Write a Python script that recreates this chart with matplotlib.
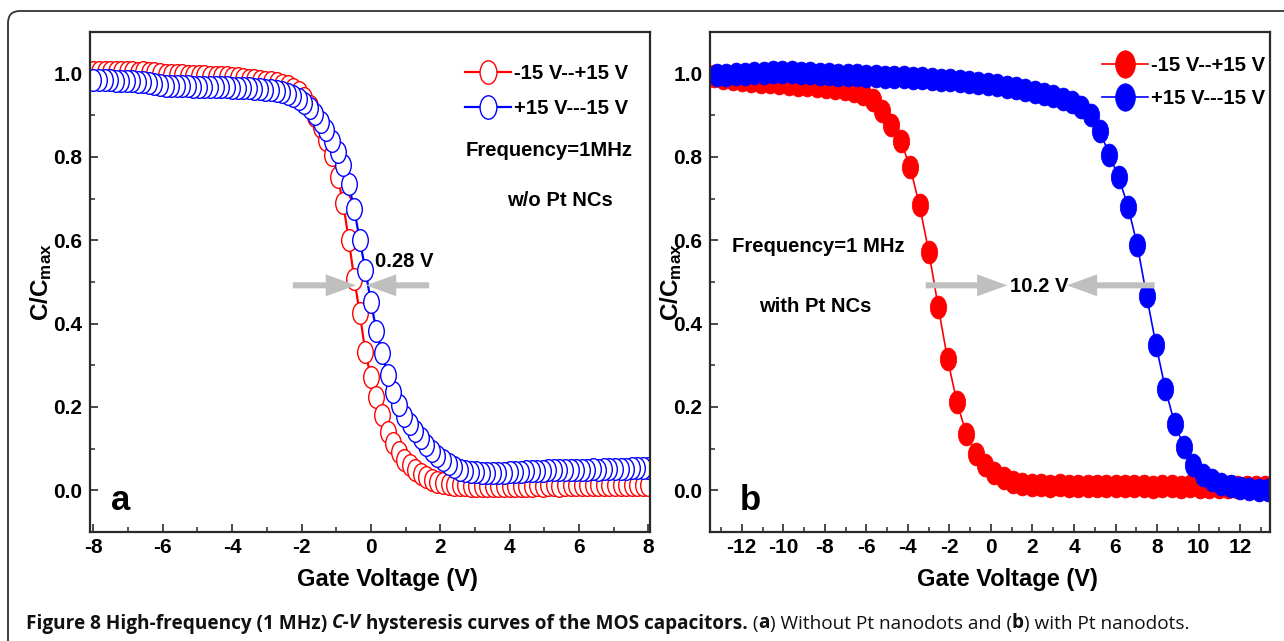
import numpy as np
import matplotlib
matplotlib.use('Agg')
import matplotlib.pyplot as plt
from matplotlib import font_manager as fm
from matplotlib.path import Path
from matplotlib.patches import FancyBboxPatch
from matplotlib.ticker import MultipleLocator, FormatStrFormatter

# ---------------- data ----------------
va = [-8.00, -7.84, -7.68, -7.52, -7.36, -7.20, -7.04, -6.88, -6.72, -6.56,
      -6.40, -6.24, -6.08, -5.92, -5.76, -5.60, -5.44, -5.28, -5.12, -4.96,
      -4.80, -4.64, -4.48, -4.32, -4.16, -4.00, -3.84, -3.68, -3.52, -3.36,
      -3.20, -3.04, -2.88, -2.72, -2.56, -2.40, -2.24, -2.08, -1.92, -1.76,
      -1.60, -1.44, -1.28, -1.12, -0.96, -0.80, -0.64, -0.48, -0.32, -0.16,
      0.00, 0.16, 0.32, 0.48, 0.64, 0.80, 0.96, 1.12, 1.28, 1.44,
      1.60, 1.76, 1.92, 2.08, 2.24, 2.40, 2.56, 2.72, 2.88, 3.04,
      3.20, 3.36, 3.52, 3.68, 3.84, 4.00, 4.16, 4.32, 4.48, 4.64,
      4.80, 4.96, 5.12, 5.28, 5.44, 5.60, 5.76, 5.92, 6.08, 6.24,
      6.40, 6.56, 6.72, 6.88, 7.04, 7.20, 7.36, 7.52, 7.68, 7.84,
      8.00]
red_a = [1.005, 1.004, 1.005, 1.004, 1.003, 1.004, 1.003, 1.003, 1.002, 1.003,
         1.002, 1.001, 1.000, 0.998, 0.997, 0.996, 0.996, 0.995, 0.995, 0.994,
         0.994, 0.993, 0.993, 0.992, 0.991, 0.990, 0.989, 0.988, 0.986, 0.985,
         0.983, 0.981, 0.979, 0.977, 0.974, 0.970, 0.964, 0.955, 0.942, 0.922,
         0.898, 0.872, 0.840, 0.805, 0.752, 0.690, 0.602, 0.508, 0.425, 0.332,
         0.272, 0.224, 0.180, 0.140, 0.114, 0.092, 0.074, 0.061, 0.050, 0.040,
         0.031, 0.025, 0.021, 0.018, 0.016, 0.014, 0.013, 0.012, 0.011, 0.011,
         0.010, 0.010, 0.011, 0.010, 0.010, 0.011, 0.011, 0.010, 0.011, 0.011,
         0.012, 0.011, 0.012, 0.012, 0.011, 0.012, 0.012, 0.013, 0.012, 0.012,
         0.013, 0.012, 0.013, 0.013, 0.012, 0.013, 0.013, 0.012, 0.013, 0.013,
         0.013]
blue_a = [0.985, 0.985, 0.984, 0.984, 0.983, 0.983, 0.982, 0.982, 0.981, 0.980,
          0.978, 0.976, 0.972, 0.971, 0.971, 0.970, 0.970, 0.970, 0.969, 0.969,
          0.968, 0.968, 0.968, 0.967, 0.967, 0.966, 0.966, 0.966, 0.965, 0.964,
          0.963, 0.962, 0.960, 0.958, 0.956, 0.952, 0.947, 0.940, 0.930, 0.918,
          0.903, 0.885, 0.864, 0.838, 0.812, 0.782, 0.735, 0.675, 0.600, 0.530,
          0.452, 0.383, 0.330, 0.278, 0.237, 0.204, 0.178, 0.160, 0.143, 0.126,
          0.108, 0.095, 0.082, 0.072, 0.063, 0.057, 0.050, 0.046, 0.044, 0.043,
          0.042, 0.042, 0.041, 0.041, 0.042, 0.043, 0.045, 0.045, 0.046, 0.046,
          0.047, 0.047, 0.048, 0.048, 0.048, 0.049, 0.049, 0.049, 0.050, 0.050,
          0.051, 0.050, 0.051, 0.051, 0.052, 0.052, 0.052, 0.053, 0.053, 0.053,
          0.054]

vb_red = [-13.34, -12.89, -12.44, -11.99, -11.54, -11.09, -10.64, -10.19, -9.74, -9.29,
          -8.84, -8.39, -7.94, -7.49, -7.04, -6.59, -6.14, -5.69, -5.24, -4.79,
          -4.34, -3.89, -3.44, -2.99, -2.54, -2.09, -1.64, -1.19, -0.74, -0.29,
          0.16, 0.61, 1.06, 1.51, 1.96, 2.41, 2.86, 3.31, 3.76, 4.21,
          4.66, 5.11, 5.56, 6.01, 6.46, 6.91, 7.36, 7.81, 8.26, 8.71,
          9.16, 9.61, 10.06, 10.51, 10.96, 11.41, 11.86, 12.31, 12.76, 13.21]
red_b = [0.995, 0.990, 0.987, 0.985, 0.983, 0.981, 0.979, 0.977, 0.975, 0.973,
         0.972, 0.970, 0.968, 0.966, 0.963, 0.959, 0.952, 0.938, 0.910, 0.876,
         0.838, 0.775, 0.684, 0.572, 0.441, 0.315, 0.212, 0.136, 0.088, 0.060,
         0.041, 0.029, 0.021, 0.016, 0.013, 0.012, 0.011, 0.012, 0.011, 0.010,
         0.011, 0.010, 0.011, 0.010, 0.010, 0.011, 0.010, 0.009, 0.010, 0.010,
         0.009, 0.010, 0.009, 0.008, 0.009, 0.008, 0.008, 0.007, 0.008, 0.007]
vb_blue = [-13.20, -12.75, -12.30, -11.85, -11.40, -10.95, -10.50, -10.05, -9.60, -9.15,
           -8.70, -8.25, -7.80, -7.35, -6.90, -6.45, -6.00, -5.55, -5.10, -4.65,
           -4.20, -3.75, -3.30, -2.85, -2.40, -1.95, -1.50, -1.05, -0.60, -0.15,
           0.30, 0.75, 1.20, 1.65, 2.10, 2.55, 3.00, 3.45, 3.90, 4.35,
           4.80, 5.25, 5.70, 6.15, 6.60, 7.05, 7.50, 7.95, 8.40, 8.85,
           9.30, 9.75, 10.20, 10.65, 11.10, 11.55, 12.00, 12.45, 12.90, 13.35]
blue_b = [0.997, 0.998, 0.999, 1.000, 1.001, 1.002, 1.003, 1.003, 1.003, 1.002,
          1.001, 1.000, 0.999, 0.998, 0.997, 0.996, 0.995, 0.994, 0.993, 0.992,
          0.991, 0.990, 0.989, 0.988, 0.986, 0.984, 0.982, 0.980, 0.978, 0.975,
          0.972, 0.968, 0.965, 0.961, 0.957, 0.952, 0.947, 0.940, 0.932, 0.920,
          0.902, 0.862, 0.805, 0.752, 0.681, 0.588, 0.466, 0.349, 0.243, 0.160,
          0.104, 0.062, 0.037, 0.024, 0.016, 0.010, 0.006, 0.003, 0.001, 0.000]

legend_labels = ['-15 V--+15 V', '+15 V---15 V']
xticks_a = [-8, -6, -4, -2, 0, 2, 4, 6, 8]
xticks_b = [-12, -10, -8, -6, -4, -2, 0, 2, 4, 6, 8, 10, 12]
yticks = [0.0, 0.2, 0.4, 0.6, 0.8, 1.0]
xlabel = 'Gate Voltage (V)'
ylabel = r'$\mathbf{C/C_{max}}$'
gap_a = '0.28 V'
gap_b = '10.2 V'
caption_parts = [
    ('Figure 8 High-frequency (1 MHz) ', 'bold', 'normal'),
    ('C-V', 'bold', 'italic'),
    (' hysteresis curves of the MOS capacitors.', 'bold', 'normal'),
    (' (', 'normal', 'normal'),
    ('a', 'bold', 'normal'),
    (') Without Pt nanodots and (', 'normal', 'normal'),
    ('b', 'bold', 'normal'),
    (') with Pt nanodots.', 'normal', 'normal'),
]

# ---------------- fonts ----------------
names = {f.name for f in fm.fontManager.ttflist}
if 'Liberation Sans Narrow' in names:
    NARROW = 'Liberation Sans Narrow'
elif 'DejaVu Sans Condensed' in names:
    NARROW = 'DejaVu Sans Condensed'
else:
    NARROW = 'Liberation Sans'
CAPF = 'Open Sans' if 'Open Sans' in names else 'DejaVu Sans'

plt.rcParams['font.family'] = [NARROW, 'DejaVu Sans']
plt.rcParams['font.weight'] = 'bold'
plt.rcParams['axes.unicode_minus'] = False
plt.rcParams['mathtext.fontset'] = 'custom'
plt.rcParams['mathtext.bf'] = NARROW + ':bold'
plt.rcParams['mathtext.rm'] = NARROW + ':bold'
plt.rcParams['mathtext.it'] = NARROW + ':bold'

W, H = 1284, 641
fig = plt.figure(figsize=(W / 100, H / 100), dpi=100)
fig.patch.set_facecolor('white')

# outer rounded frame (cut off at right and bottom)
frame = FancyBboxPatch((8, -30), 1320, 630 + 30, boxstyle='round,pad=0,rounding_size=12',
                       transform=None, fill=False, ec='#333333', lw=1.3)
fig.patches.append(frame)

circ = Path.unit_circle()
ell = Path(circ.vertices * np.array([0.72, 1.0]), circ.codes)

SPINE = '#2a2a2a'
TXT = 14.6   # annotation / legend text size


def style_axes(ax, xlim, xticks):
    ax.set_xlim(*xlim)
    ax.set_ylim(-0.1, 1.1)
    ax.set_xticks(xticks)
    ax.set_yticks(yticks)
    ax.xaxis.set_minor_locator(MultipleLocator(1))
    ax.yaxis.set_minor_locator(MultipleLocator(0.1))
    ax.yaxis.set_major_formatter(FormatStrFormatter('%.1f'))
    ax.xaxis.set_major_formatter(FormatStrFormatter('%d'))
    ax.tick_params(which='both', direction='in', color=SPINE, top=False, right=False)
    ax.tick_params(which='major', length=6, width=1.2, labelsize=15)
    ax.tick_params(which='minor', length=3.5, width=1.1)
    ax.tick_params(axis='y', which='major', pad=5.5)
    ax.tick_params(axis='x', which='major', pad=4)
    for s in ax.spines.values():
        s.set_linewidth(1.6)
        s.set_color(SPINE)
    ax.set_xlabel(xlabel, fontsize=17, fontweight='bold')
    ax.set_ylabel(ylabel, fontsize=17.5)
    ax.xaxis.set_label_coords(0.532, -0.072)


def gray_arrow(ax, tail, tip):
    ax.annotate('', xy=tip, xytext=tail, xycoords='data', textcoords='data',
                arrowprops=dict(arrowstyle='simple,head_length=1.45,head_width=1.05,tail_width=0.29',
                                mutation_scale=15, fc='#bfbfbf', ec='none',
                                shrinkA=0, shrinkB=0), zorder=5)


# ---------------- panel a ----------------
ax_a = fig.add_axes([90 / W, (H - 532) / H, 560 / W, 500 / H])
style_axes(ax_a, (-8.1, 8.05), xticks_a)
ax_a.yaxis.set_label_coords(-0.064, 0.5)
la1, = ax_a.plot(va, red_a, color='red', lw=1.6, marker=ell, ms=15.6, mfc='white',
                 mec='red', mew=1.0, label=legend_labels[0])
la2, = ax_a.plot(va[::-1], blue_a[::-1], color='blue', lw=1.6, marker=ell, ms=15.6,
                 mfc='white', mec='blue', mew=1.0, label=legend_labels[1])
ax_a.legend(handles=[la1, la2], loc='upper left', bbox_to_anchor=(0.67, 0.936),
            frameon=False, fontsize=TXT, handlelength=2.27, handletextpad=0.15,
            labelspacing=0.77, borderpad=0, borderaxespad=0, markerscale=1.08)
ax_a.text(0.671, 0.764, 'Frequency=1MHz', transform=ax_a.transAxes, fontsize=TXT,
          fontweight='bold', va='center', ha='left')
ax_a.text(0.745, 0.664, 'w/o Pt NCs', transform=ax_a.transAxes, fontsize=TXT,
          fontweight='bold', va='center', ha='left')
ax_a.text(0.12, 0.549, gap_a, transform=ax_a.transData, fontsize=TXT,
          fontweight='bold', va='center', ha='left')
gray_arrow(ax_a, (-2.25, 0.492), (-0.43, 0.492))
gray_arrow(ax_a, (1.68, 0.492), (-0.14, 0.492))
ax_a.text(0.038, 0.044, 'a', transform=ax_a.transAxes, fontsize=25, fontweight='bold',
          family=['Liberation Sans', 'DejaVu Sans'], va='baseline', ha='left')

# ---------------- panel b ----------------
ax_b = fig.add_axes([710 / W, (H - 532) / H, 560 / W, 500 / H])
style_axes(ax_b, (-13.53, 13.44), xticks_b)
ax_b.yaxis.set_label_coords(-0.047, 0.5)
lb1, = ax_b.plot(vb_red, red_b, color='red', lw=1.2, marker=ell, ms=16.5, mfc='red',
                 mec='red', mew=0.5, label=legend_labels[0])
lb2, = ax_b.plot(vb_blue[::-1], blue_b[::-1], color='blue', lw=1.2, marker=ell, ms=16.5,
                 mfc='blue', mec='blue', mew=0.5, label=legend_labels[1])
ax_b.legend(handles=[lb1, lb2], loc='upper left', bbox_to_anchor=(0.70, 0.952),
            frameon=False, fontsize=TXT, handlelength=2.27, handletextpad=0.15,
            labelspacing=0.7, borderpad=0, borderaxespad=0, markerscale=1.2)
ax_b.text(0.039, 0.57, 'Frequency=1 MHz', transform=ax_b.transAxes, fontsize=TXT,
          fontweight='bold', va='center', ha='left')
ax_b.text(0.0875, 0.45, 'with Pt NCs', transform=ax_b.transAxes, fontsize=TXT,
          fontweight='bold', va='center', ha='left')
ax_b.text(2.31, 0.489, gap_b, transform=ax_b.transData, fontsize=TXT,
          fontweight='bold', va='center', ha='center')
gray_arrow(ax_b, (-3.14, 0.492), (0.79, 0.492))
gray_arrow(ax_b, (7.88, 0.492), (3.66, 0.492))
ax_b.text(0.054, 0.044, 'b', transform=ax_b.transAxes, fontsize=25, fontweight='bold',
          family=['Liberation Sans', 'DejaVu Sans'], va='baseline', ha='left')

# ---------------- caption ----------------
fig.canvas.draw()
renderer = fig.canvas.get_renderer()


def draw_caption(size):
    x = 26.0
    objs = []
    for txt, wt, st in caption_parts:
        t = fig.text(x / W, (H - 628.5) / H, txt, fontsize=size, fontweight=wt,
                     fontstyle=st, family=[CAPF, 'DejaVu Sans'], va='baseline', ha='left',
                     color='#111111')
        bb = t.get_window_extent(renderer)
        x = bb.x1
        objs.append(t)
    return objs, x - 26.0


objs, width = draw_caption(13.0)
target = 1160.0
for o in objs:
    o.remove()
objs, width = draw_caption(13.0 * target / width)

fig.savefig('out.png', dpi=100, facecolor='white')
